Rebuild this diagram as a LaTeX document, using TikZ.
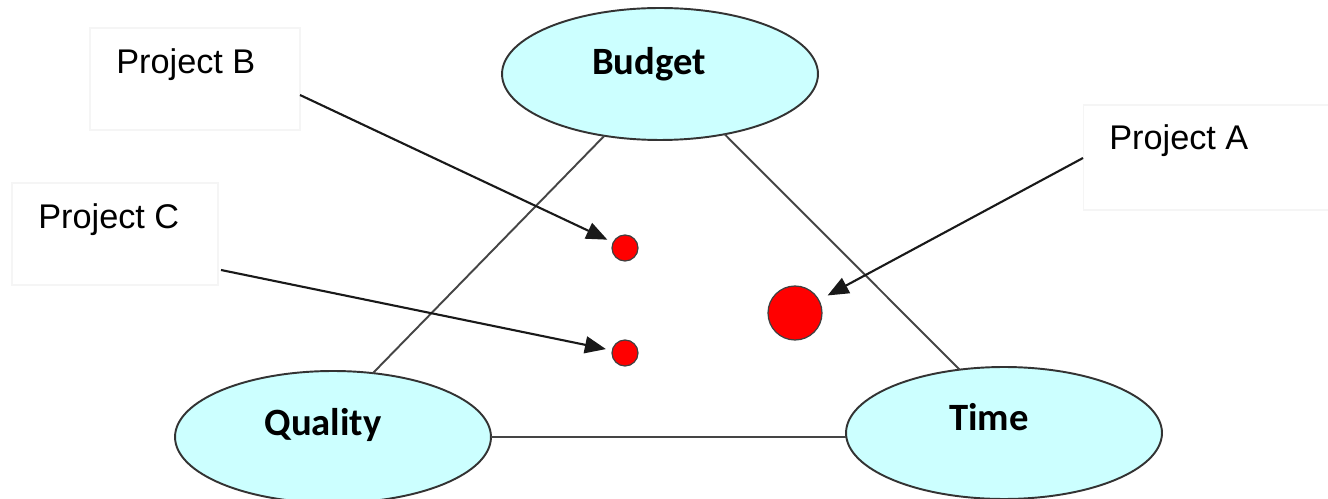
\documentclass[tikz,border=0pt]{standalone}
\usepackage{fontspec}
\setmainfont{Liberation Sans}
\newfontfamily\calibrifont{Carlito}
\usetikzlibrary{arrows.meta,shapes.geometric}
\definecolor{capfill}{HTML}{CCFFFF}
\definecolor{dotred}{HTML}{FF0000}
\definecolor{sidegray}{HTML}{454545}
\definecolor{boxline}{HTML}{F5F5F5}
\begin{document}
\begin{tikzpicture}[x=0.02cm,y=-0.02cm,
  corner/.style={ellipse, draw=black!80, line width=1.1pt, fill=capfill,
    inner sep=0pt, outer sep=0pt, minimum width=6.32cm, minimum height=2.64cm},
  cornertext/.style={anchor=base, inner sep=0pt,
    font=\calibrifont\bfseries\fontsize{22}{26}\selectfont},
  projtext/.style={anchor=base west, inner sep=0pt,
    font=\fontsize{19.5}{23}\selectfont},
  labelbox/.style={draw=boxline, line width=0.6pt, inner sep=0pt, outer sep=0pt},
  dot/.style={circle, draw=black!75, line width=0.7pt, fill=dotred,
    inner sep=0pt, outer sep=0pt},
  side/.style={draw=sidegray, line width=1.1pt},
  pointer/.style={draw=black!90, line width=1.2pt,
    -{Triangle[length=0.42cm,width=0.34cm]}},
]
\useasboundingbox (0,0) rectangle (1328,499);

% faint frames around the project captions
\node[labelbox, minimum width=4.2cm, minimum height=2.04cm] (boxB) at (195,79) {};
\node[labelbox, minimum width=4.12cm, minimum height=2.04cm] (boxC) at (115,234) {};
\node[labelbox, minimum width=5.14cm, minimum height=2.1cm] (boxA) at (1211.5,157.5) {};

\node[projtext] (tB) at (116,74) {Project B};
\node[projtext] (tC) at (38,229) {Project C};
\node[projtext] (tA) at (1109,150) {Project A};

% the three corners of the triangle
\node[corner] (budget) at (660,74) {};
\node[corner] (quality) at (333,437) {};
\node[corner] (time) at (1004,433) {};

\node[cornertext] (lbudget) at (649,75) {Budget};
\node[cornertext] (lquality) at (323,436) {Quality};
\node[cornertext] (ltime) at (989,431) {Time};

% triangle sides
\draw[side] (budget.228) -- (quality.58);
\draw[side] (budget.317) -- (time.125);
\draw[side] (quality.east) -- (quality.east -| time.west);

% project markers
\node[dot, minimum size=0.52cm] (dB) at (625,248) {};
\node[dot, minimum size=0.52cm] (dC) at (625,353) {};
\node[dot, minimum size=1.08cm] (dA) at (795,313) {};

% pointer arrows
\coordinate (sB) at (300,95);
\coordinate (sC) at (221,270);
\coordinate (sA) at (1083,158);
\draw[pointer, shorten >=0.13cm] (sB) -- (dB);
\draw[pointer, shorten >=0.13cm] (sC) -- (dC);
\draw[pointer, shorten >=0.2cm] (sA) -- (dA);
\end{tikzpicture}
\end{document}
